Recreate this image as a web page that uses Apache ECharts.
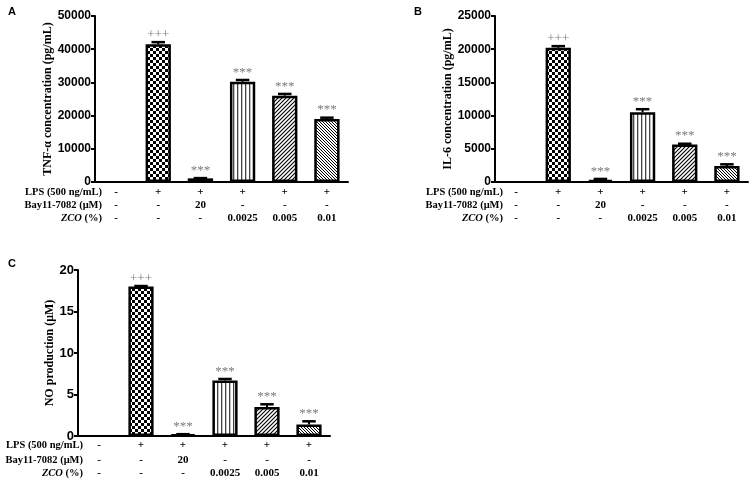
<!DOCTYPE html>
<html><head><meta charset="utf-8">
<script src="https://cdn.jsdelivr.net/npm/echarts@6/dist/echarts.min.js"></script>
<style>html,body{margin:0;padding:0;background:#fff}#c{width:750px;height:480px}</style>
</head><body><div id="c"></div>
<script>
// ---- data ----
const categories = ['Control', 'LPS', 'Bay11-7082', 'ZCO 0.0025', 'ZCO 0.005', 'ZCO 0.01'];
const lpsRow = ['-', '+', '+', '+', '+', '+'];
const bayRow = ['-', '-', '20', '-', '-', '-'];
const zcoRow = ['-', '-', '-', '0.0025', '0.005', '0.01'];
const marks = ['', '+++', '***', '***', '***', '***'];
const tnfMean = [0, 41500, 1100, 30200, 26000, 19000];
const tnfSD = [0, 700, 150, 600, 600, 450];
const il6Mean = [0, 20200, 300, 10500, 5650, 2400];
const il6SD = [0, 300, 200, 500, 150, 300];
const noMean = [0, 18.0, 0.2, 6.7, 3.5, 1.4];
const noSD = [0, 0.1, 0.05, 0.2, 0.35, 0.4];

// ---- patterns ----
function mk(w, h, draw) { const c = document.createElement('canvas'); c.width = w; c.height = h; const g = c.getContext('2d'); g.fillStyle = '#fff'; g.fillRect(0, 0, w, h); draw(g); return { image: c, repeat: 'repeat' }; }
const pChecker = mk(6, 6, g => { g.fillStyle = '#000'; g.fillRect(0, 0, 3, 3); g.fillRect(3, 3, 3, 3); });
const pWhite = mk(2, 2, g => {});
const pVert = mk(4, 4, g => { g.fillStyle = '#444'; g.fillRect(1, 0, 1.3, 4); });
const pSlash = mk(4, 4, g => { g.strokeStyle = '#000'; g.lineWidth = 1.1; g.beginPath(); g.moveTo(-1, 5); g.lineTo(5, -1); g.moveTo(-2, 2); g.lineTo(2, -2); g.moveTo(2, 6); g.lineTo(6, 2); g.stroke(); });
const pBack = mk(3, 3, g => { g.strokeStyle = '#000'; g.lineWidth = 1; g.beginPath(); g.moveTo(-1, -1); g.lineTo(4, 4); g.moveTo(-2, 1); g.lineTo(1, 4); g.moveTo(2, -1); g.lineTo(5, 2); g.stroke(); });
const patterns = [pWhite, pChecker, pWhite, pVert, pSlash, pBack];

const serif = 'Liberation Serif';
const sans = 'Liberation Sans';

const grids = [
  { left: 95, top: 16, width: 253, height: 166 },
  { left: 495, top: 16, width: 253, height: 166 },
  { left: 78, top: 270, width: 252, height: 166 }
];
const rowOffsets = [[10, 23, 36], [10, 23, 36], [9, 24, 37]];
const rowGaps = [-7, -8, -5];
const yCfg = [
  { max: 50000, interval: 10000, name: 'TNF-α concentration (pg/mL)', gap: 37, fs: 12 },
  { max: 25000, interval: 5000, name: 'IL-6 concentration (pg/mL)', gap: 39, fs: 12 },
  { max: 20, interval: 5, name: 'NO production (μM)', gap: 21, fs: 13 }
];
const means = [tnfMean, il6Mean, noMean];
const sds = [tnfSD, il6SD, noSD];

const xAxis = [], yAxis = [], series = [];
grids.forEach((g, gi) => {
  xAxis.push({
    type: 'category', gridIndex: gi, data: categories,
    axisLine: { lineStyle: { color: '#000', width: 2 } },
    axisTick: { alignWithLabel: true, length: 4, lineStyle: { width: 1.5, color: '#000' } },
    axisLabel: { show: false }
  });
  const rows = [lpsRow, bayRow, zcoRow];
  const names = ['LPS (500 ng/mL)', 'Bay11-7082 (μM)', '{i|ZCO} (%)'];
  rows.forEach((r, ri) => {
    xAxis.push({
      type: 'category', gridIndex: gi, data: r, position: 'bottom', offset: rowOffsets[gi][ri],
      axisLine: { show: false }, axisTick: { show: false },
      axisLabel: { margin: 0, verticalAlign: 'middle', interval: 0, color: '#000', fontFamily: serif, fontWeight: 'bold', fontSize: 11 },
      name: names[ri], nameLocation: 'start', nameGap: rowGaps[gi], nameMoveOverlap: false,
      nameTextStyle: { color: '#000', fontFamily: serif, fontWeight: 'bold', fontSize: 10.5, verticalAlign: 'middle', align: 'right',
        rich: { i: { fontStyle: 'italic', fontFamily: serif, fontWeight: 'bold', fontSize: 10.5, color: '#000' } } }
    });
  });
  const yc = yCfg[gi];
  yAxis.push({
    type: 'value', gridIndex: gi, min: 0, max: yc.max, interval: yc.interval,
    splitLine: { show: false },
    axisLine: { show: true, lineStyle: { color: '#000', width: 2 } },
    axisTick: { show: true, length: 4, lineStyle: { color: '#000', width: 2 } },
    axisLabel: { color: '#000', fontFamily: sans, fontWeight: 'bold', fontSize: yc.fs, margin: 4, formatter: v => String(v) },
    name: yc.name, nameLocation: 'middle', nameGap: yc.gap,
    nameTextStyle: { color: '#000', fontFamily: serif, fontWeight: 'bold', fontSize: 12 }
  });
  const xi = gi * 4;
  series.push({
    type: 'bar', xAxisIndex: xi, yAxisIndex: gi, barWidth: '60%', silent: true,
    data: means[gi].map((v, i) => ({ value: v, itemStyle: { color: patterns[i], borderColor: '#000', borderWidth: v ? 2.5 : 0 } }))
  });
  series.push({
    type: 'custom', xAxisIndex: xi, yAxisIndex: gi, z: 5, silent: true,
    data: means[gi].map((v, i) => [i, v, sds[gi][i]]),
    renderItem: function (params, api) {
      const i = api.value(0), m = api.value(1), s = api.value(2);
      if (!m) return null;
      const p0 = api.coord([i, m]);
      const p1 = api.coord([i, m + s]);
      const w = api.size([1, 0])[0] * 0.16;
      return {
        type: 'group', children: [
          { type: 'line', shape: { x1: p0[0], y1: p0[1], x2: p1[0], y2: p1[1] }, style: { stroke: '#000', lineWidth: 2 } },
          { type: 'rect', shape: { x: p1[0] - w, y: p1[1] - 1, width: 2 * w, height: 2.5 }, style: { fill: '#000' } },
          { type: 'text', x: p1[0], y: p1[1] - 1, style: { text: marks[i], fill: '#7a7a7a', font: '13px "Liberation Serif"', textAlign: 'center', textVerticalAlign: 'bottom' } }
        ]
      };
    }
  });
});

const chart = echarts.init(document.getElementById('c'), null, { renderer: 'canvas' });
chart.setOption({
  animation: false,
  backgroundColor: '#fff',
  title: [
    { text: 'A', left: 3, top: 1, textStyle: { fontFamily: sans, fontWeight: 'bold', fontSize: 11, color: '#000' } },
    { text: 'B', left: 409, top: 1, textStyle: { fontFamily: sans, fontWeight: 'bold', fontSize: 11, color: '#000' } },
    { text: 'C', left: 3, top: 253, textStyle: { fontFamily: sans, fontWeight: 'bold', fontSize: 11, color: '#000' } }
  ],
  grid: grids,
  xAxis: xAxis,
  yAxis: yAxis,
  series: series
});
</script></body></html>
